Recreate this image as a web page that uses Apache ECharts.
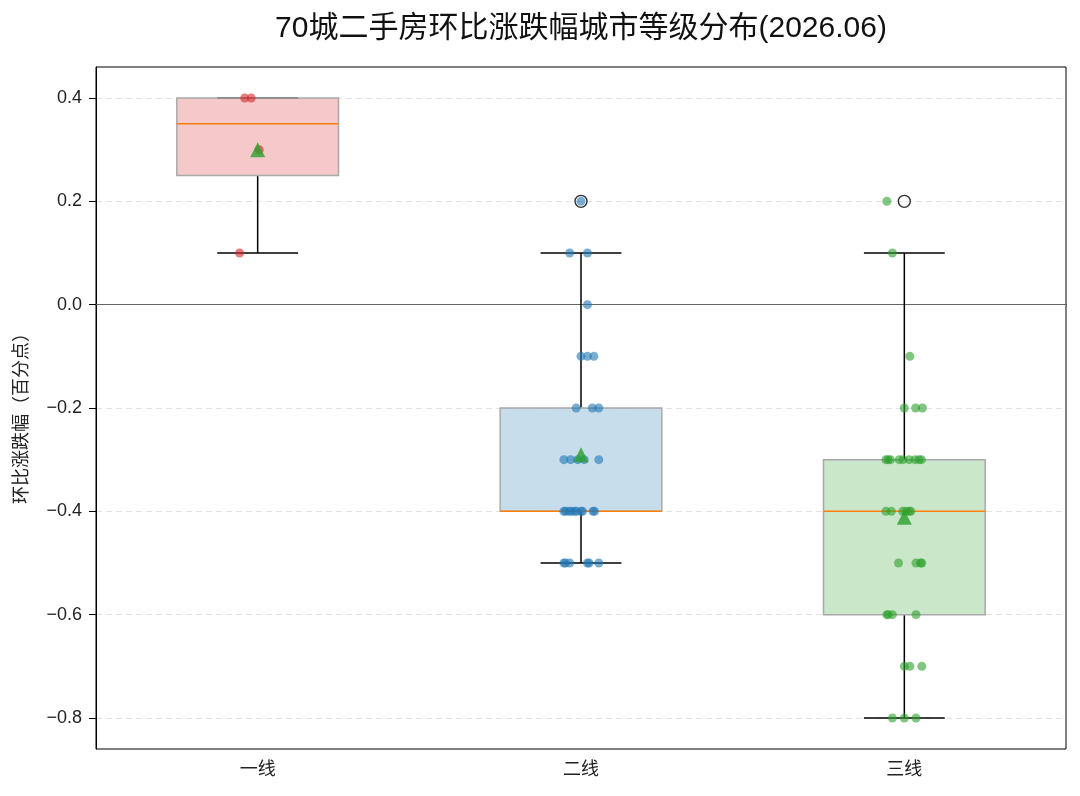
<!DOCTYPE html>
<html>
<head>
<meta charset="utf-8">
<script src="https://cdn.jsdelivr.net/npm/echarts@6/dist/echarts.min.js"></script>
<style>
  html, body { margin: 0; padding: 0; background: #fff; }
  #main { width: 1080px; height: 796px; }
</style>
</head>
<body>
<div id="main"></div>
<script>
var categories = ['一线', '二线', '三线'];
var yTicks = [-0.8, -0.6, -0.4, -0.2, 0.0, 0.2, 0.4];

// 每个点: [x(含抖动), 环比涨跌幅]
var tier1Points = [
    [0.960, 0.4], [0.980, 0.4], [1.005, 0.3], [0.944, 0.1]
];
var tier2Points = [
    [2.000, 0.2],
    [1.965, 0.1], [2.020, 0.1],
    [2.020, 0.0],
    [2.000, -0.1], [2.020, -0.1], [2.040, -0.1],
    [1.985, -0.2], [2.035, -0.2], [2.055, -0.2],
    [1.947, -0.3], [1.968, -0.3], [1.990, -0.3], [2.010, -0.3], [2.055, -0.3],
    [1.947, -0.4], [1.952, -0.4], [1.963, -0.4], [1.970, -0.4], [1.980, -0.4],
    [1.986, -0.4], [2.000, -0.4], [2.005, -0.4], [2.037, -0.4], [2.042, -0.4],
    [1.947, -0.5], [1.952, -0.5], [1.965, -0.5], [2.020, -0.5], [2.025, -0.5], [2.055, -0.5]
];
var tier3Points = [
    [2.946, 0.2],
    [2.963, 0.1],
    [3.017, -0.1],
    [3.000, -0.2], [3.035, -0.2], [3.056, -0.2],
    [2.943, -0.3], [2.950, -0.3], [2.957, -0.3], [2.984, -0.3], [2.996, -0.3],
    [3.015, -0.3], [3.033, -0.3], [3.045, -0.3], [3.053, -0.3],
    [2.943, -0.4], [2.960, -0.4], [2.995, -0.4], [3.005, -0.4], [3.015, -0.4], [3.020, -0.4],
    [2.982, -0.5], [3.036, -0.5], [3.050, -0.5], [3.054, -0.5],
    [2.946, -0.6], [2.950, -0.6], [2.963, -0.6], [3.036, -0.6],
    [3.000, -0.7], [3.017, -0.7], [3.054, -0.7],
    [2.963, -0.8], [3.000, -0.8], [3.036, -0.8]
];

var pointColors = ['rgba(214,39,40,0.75)', 'rgba(31,119,180,0.75)', 'rgba(44,160,44,0.75)'];
var boxFills = ['rgba(214,39,40,0.25)', 'rgba(31,119,180,0.25)', 'rgba(44,160,44,0.25)'];

// 线性插值分位数(与 numpy 默认一致)
function quantile(sorted, p) {
    var pos = p * (sorted.length - 1);
    var lo = Math.floor(pos), hi = Math.ceil(pos);
    return sorted[lo] + (sorted[hi] - sorted[lo]) * (pos - lo);
}

function boxStats(points, center) {
    var v = points.map(function (p) { return p[1]; }).sort(function (a, b) { return a - b; });
    var q1 = quantile(v, 0.25), med = quantile(v, 0.5), q3 = quantile(v, 0.75);
    var iqr = q3 - q1;
    var loFence = q1 - 1.5 * iqr - 1e-9, hiFence = q3 + 1.5 * iqr + 1e-9;
    var inside = v.filter(function (x) { return x >= loFence && x <= hiFence; });
    var fliers = v.filter(function (x) { return x < loFence || x > hiFence; });
    var sum = 0;
    for (var i = 0; i < v.length; i++) sum += v[i];
    return {
        box: [center, q1, med, q3, inside[0], inside[inside.length - 1]],
        mean: [center, sum / v.length],
        fliers: fliers.map(function (f) { return [center, f]; })
    };
}

var allPoints = [tier1Points, tier2Points, tier3Points];
var boxData = [], meanData = [], flierData = [];
for (var i = 0; i < allPoints.length; i++) {
    var s = boxStats(allPoints[i], i + 1);
    boxData.push(s.box);
    meanData.push(s.mean);
    flierData = flierData.concat(s.fliers);
}

function renderBox(params, api) {
    var x = api.value(0);
    var q1 = api.value(1), med = api.value(2), q3 = api.value(3);
    var lo = api.value(4), hi = api.value(5);
    var hb = 0.25, hc = 0.125;
    var tl = api.coord([x - hb, q3]);
    var br = api.coord([x + hb, q1]);
    var black = { stroke: '#000', lineWidth: 1.5 };
    function seg(x1, y1, x2, y2) {
        var a = api.coord([x1, y1]), b = api.coord([x2, y2]);
        return { x1: a[0], y1: a[1], x2: b[0], y2: b[1] };
    }
    return {
        type: 'group',
        children: [
            { type: 'line', shape: seg(x, q1, x, lo), style: black },
            { type: 'line', shape: seg(x, q3, x, hi), style: black },
            { type: 'line', shape: seg(x - hc, lo, x + hc, lo), style: black },
            { type: 'line', shape: seg(x - hc, hi, x + hc, hi), style: black },
            {
                type: 'rect',
                shape: { x: tl[0], y: tl[1], width: br[0] - tl[0], height: br[1] - tl[1] },
                style: { fill: boxFills[params.dataIndex], stroke: '#a9a9a9', lineWidth: 1.5 }
            },
            { type: 'line', shape: seg(x - hb, med, x + hb, med), style: { stroke: '#ff7f0e', lineWidth: 1.5 } }
        ]
    };
}

var chart = echarts.init(document.getElementById('main'));

var pointSeries = allPoints.map(function (pts, idx) {
    return {
        type: 'scatter',
        xAxisIndex: 1,
        data: pts,
        symbolSize: 9,
        itemStyle: { color: pointColors[idx] },
        z: 3,
        silent: true
    };
});

var option = {
    animation: false,
    textStyle: { fontFamily: '"Liberation Sans", "Noto Sans CJK SC", sans-serif' },
    title: {
        text: '70城二手房环比涨跌幅城市等级分布(2026.06)',
        left: 576,
        top: 9,
        textAlign: 'center',
        textStyle: {
            fontSize: 30, fontWeight: 'normal', color: '#111',
            fontFamily: '"Liberation Sans", "Noto Sans CJK SC", sans-serif'
        }
    },
    grid: {
        left: 96, right: 14, top: 67, bottom: 47,
        show: true, borderColor: '#000', borderWidth: 1, backgroundColor: 'transparent'
    },
    xAxis: [
        {
            type: 'category',
            data: categories,
            axisLine: { lineStyle: { color: '#000', width: 1 } },
            axisTick: { alignWithLabel: true, length: 6, lineStyle: { color: '#000' } },
            axisLabel: { fontSize: 18, color: '#222', margin: 12 },
            splitLine: { show: false }
        },
        {
            type: 'value',
            min: 0.5, max: 3.5,
            show: false
        }
    ],
    yAxis: {
        type: 'value',
        min: -0.86, max: 0.46,
        name: '环比涨跌幅（百分点）',
        nameLocation: 'middle',
        nameGap: 65,
        nameTextStyle: { fontSize: 18, color: '#222', padding: [0, 12, 0, 0] },
        axisLine: { show: true, lineStyle: { color: '#000', width: 1 } },
        axisTick: { show: true, length: 7, customValues: yTicks, lineStyle: { color: '#000' } },
        axisLabel: {
            fontSize: 18, color: '#222', margin: 14,
            customValues: yTicks,
            formatter: function (v) { return v.toFixed(1).replace('-', '\u2212'); }
        },
        splitLine: { show: false }
    },
    series: [
        {
            type: 'scatter',
            xAxisIndex: 1,
            data: [],
            silent: true,
            markLine: {
                silent: true,
                z: 0,
                symbol: 'none',
                label: { show: false },
                lineStyle: { color: '#e3e3e3', type: [6, 4], width: 1 },
                data: yTicks.filter(function (t) { return t !== 0; }).map(function (t) { return { yAxis: t }; })
            },
            z: 0
        },
        {
            type: 'scatter',
            xAxisIndex: 1,
            data: [],
            silent: true,
            markLine: {
                silent: true,
                z: 1,
                symbol: 'none',
                label: { show: false },
                lineStyle: { color: '#666', type: 'solid', width: 1 },
                data: [{ yAxis: 0 }]
            },
            z: 1
        },
        {
            type: 'custom',
            xAxisIndex: 1,
            renderItem: renderBox,
            data: boxData,
            encode: { x: 0, y: [1, 2, 3, 4, 5] },
            z: 2,
            silent: true
        }
    ].concat(pointSeries).concat([
        {
            type: 'scatter',
            xAxisIndex: 1,
            data: flierData,
            symbol: 'circle',
            symbolSize: 12,
            itemStyle: { color: 'rgba(0,0,0,0)', borderColor: '#000', borderWidth: 1.4 },
            z: 4,
            silent: true
        },
        {
            type: 'scatter',
            xAxisIndex: 1,
            data: meanData,
            symbol: 'triangle',
            symbolSize: 15,
            itemStyle: { color: '#2ca02c' },
            z: 5,
            silent: true
        }
    ])
};

chart.setOption(option);
</script>
</body>
</html>
